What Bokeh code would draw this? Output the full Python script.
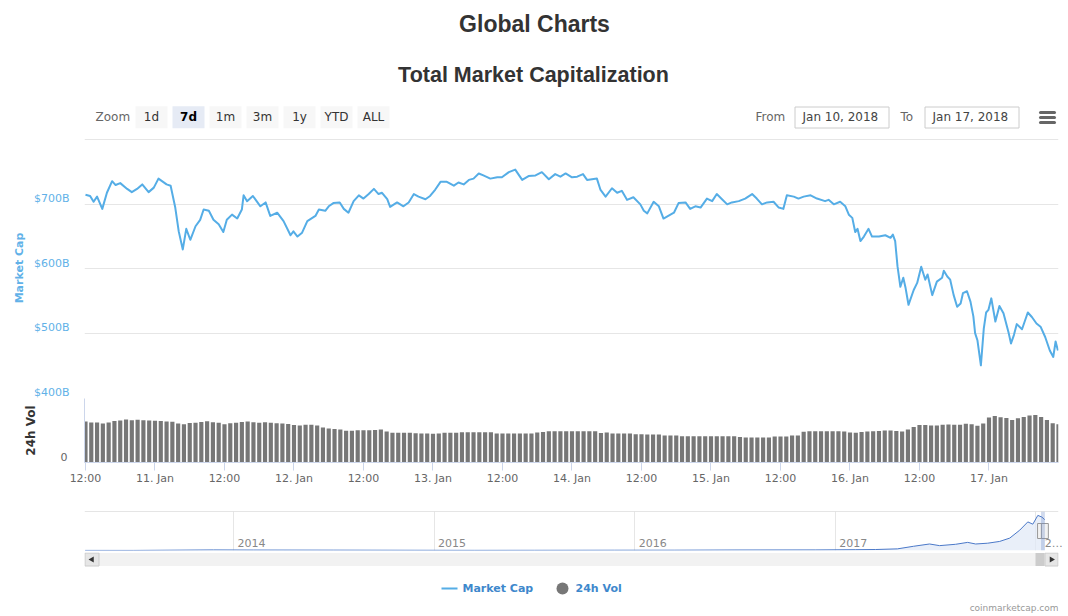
import math
from bokeh.plotting import figure
from bokeh.layouts import column
from bokeh.models import (Range1d, LinearAxis, FixedTicker, PrintfTickFormatter,
                          Grid, Span, BoxAnnotation)
from bokeh.core.properties import value
from bokeh.embed import file_html
from bokeh.resources import INLINE

# ---------------- data ----------------
# Total market cap ($B), hours since Jan 10 2018 12:00
cap_hours = [0.0, 0.8, 1.4, 2.0, 2.9, 3.7, 4.6, 5.2, 6.0, 7.2, 8.0, 8.9, 9.8, 10.9, 11.8, 12.6,
             14.0, 14.7, 15.5, 16.1, 16.8, 17.4, 18.1, 19.0, 19.8, 20.4, 21.3, 22.1, 23.0, 23.8,
             24.4, 25.3, 26.2, 27.0, 27.3, 27.9, 28.9, 30.2, 31.1, 31.9, 33.1, 34.2, 35.4, 35.9,
             36.6, 37.4, 38.3, 39.7, 40.3, 41.4, 42.0, 42.8, 43.9, 44.6, 45.4, 46.3, 47.2, 48.0,
             48.9, 49.8, 50.6, 51.2, 52.1, 52.6, 53.8, 54.9, 55.8, 56.7, 57.5, 58.7, 59.5, 60.4,
             61.3, 62.4, 63.6, 64.4, 65.3, 66.2, 67.0, 67.9, 68.7, 69.9, 71.1, 71.9, 73.1, 74.2,
             75.4, 76.5, 77.7, 78.8, 80.0, 81.1, 82.0, 82.9, 84.0, 84.9, 85.9, 86.6, 88.3, 88.9,
             89.8, 90.9, 91.8, 92.6, 93.5, 94.6, 95.8, 96.4, 97.0, 98.1, 99.0, 99.8, 101.0, 101.6,
             102.4, 103.6, 104.4, 105.3, 106.2, 107.3, 108.2, 109.0, 109.9, 110.8, 111.6, 112.8,
             113.9, 115.1, 115.9, 116.8, 117.7, 118.8, 119.7, 120.5, 121.1, 122.3, 123.1, 124.0,
             125.2, 126.3, 127.7, 128.3, 129.2, 130.3, 131.2, 131.8, 132.4, 132.9, 133.3, 133.8,
             134.4, 135.2, 135.8, 137.0, 138.1, 139.0, 139.4, 139.8, 140.2, 140.7, 141.2, 141.6,
             142.1, 143.0, 143.6, 144.3, 145.0, 145.4, 146.2, 147.0, 147.9, 148.2, 148.8, 149.3,
             149.9, 150.5, 151.1, 151.5, 152.2, 152.8, 153.3, 153.6, 154.0, 154.6, 155.1, 155.5,
             155.9, 156.4, 157.1, 157.8, 158.5, 159.4, 159.8, 160.3, 160.8, 161.7, 162.7, 163.4,
             164.2, 164.9, 165.7, 166.5, 167.1, 167.5, 167.9]
cap_values = [715, 713, 704, 712, 693, 718, 736, 730, 733, 724, 719, 724, 731, 719, 726, 740,
              731, 729, 695, 658, 630, 662, 645, 666, 676, 692, 690, 676, 669, 657,
              676, 684, 678, 692, 714, 705, 713, 697, 703, 682, 687, 674, 652, 658,
              650, 656, 674, 682, 692, 690, 697, 702, 703, 693, 687, 705, 714, 709,
              716, 724, 716, 718, 708, 696, 703, 697, 703, 716, 712, 708, 713, 723,
              735, 735, 729, 734, 731, 738, 740, 748, 745, 740, 742, 742, 750, 754,
              738, 744, 745, 750, 739, 747, 743, 748, 742, 743, 747, 738, 740, 723,
              712, 725, 718, 721, 707, 711, 700, 690, 686, 704, 697, 678, 684, 687,
              702, 703, 693, 697, 695, 709, 705, 716, 708, 700, 703, 705,
              709, 716, 709, 700, 703, 704, 695, 693, 714, 712, 709, 712,
              714, 709, 705, 707, 700, 704, 697, 684, 679, 657, 662, 643,
              650, 662, 650, 650, 652, 648, 653, 643, 604, 572, 586, 570,
              544, 567, 578, 603, 583, 591, 559, 580, 586, 597, 588, 583,
              559, 541, 546, 562, 565, 549, 526, 500, 489, 450, 507, 532,
              536, 554, 518, 542, 531, 500, 484, 497, 514, 506, 532, 525,
              515, 510, 494, 473, 463, 487, 473]

# 24h volume ($B), one bar per hour from Jan 10 2018 12:00
vol_values = [41, 40, 40, 39, 40, 41.5, 42, 43, 42.3, 42.7, 42.3, 42, 41.7, 41.5, 41, 40.7,
              39, 38.3, 39.5, 39.7, 40.5, 41.3, 40.3, 39.7,
              38.3, 39.3, 39.7, 40.5, 41, 40.3, 39.7, 40.3, 39.7, 39.3, 39, 38.5,
              37.5, 37, 37.7, 37.7, 37, 35, 34, 33.5, 33, 31.7, 31.7, 32.3,
              32.3, 32.3, 32.5, 33, 31, 29.7, 29.7, 29.7, 29.7, 29.3, 29, 29,
              28.7, 29, 29.7, 29.7, 29.7, 30.3, 30.3, 30.3, 30.3, 30.3, 30.3, 29,
              29, 29, 29, 29, 29, 29, 30, 30.5, 31.3, 31.3, 31.3, 31.3,
              31.3, 31.3, 31.3, 31.3, 31.3, 29.5, 30, 29, 29, 29, 29, 28.3,
              28.3, 28, 28, 28, 27, 27, 27, 26.3, 26.3, 26.3, 26.3, 26.3,
              26.3, 26.3, 26.3, 26.3, 26.3, 25.5, 25, 25, 25, 25, 25, 26,
              26, 26, 27, 27, 30.7, 31.3, 31.3, 31.3, 31.3, 31.3, 31.3, 31,
              30, 29.7, 30.5, 31, 31.3, 31.5, 32, 32, 31.5, 31, 33, 35.5,
              37.5, 37.5, 37, 37, 37.7, 38, 37.7, 37.7, 38.7, 38.3, 36.7, 39,
              45, 46.5, 45.3, 44.5, 42.5, 44.3, 45.5, 47, 47.5, 45.5, 42.5, 39.3,
              38.3]
vol_hours = list(range(len(vol_values)))

x_tick_hours = [0, 12, 24, 36, 48, 60, 72, 84, 96, 108, 120, 132, 144, 156]
x_tick_labels = ["12:00", "11. Jan", "12:00", "12. Jan", "12:00", "13. Jan", "12:00",
                 "14. Jan", "12:00", "15. Jan", "12:00", "16. Jan", "12:00", "17. Jan"]
cap_label_ticks = [400, 500, 600, 700]
cap_grid_ticks = [400, 500, 600, 700, 800]

# navigator: whole history (decimal year, $B)
nav_years = [2013.26, 2013.5, 2013.9, 2014.1, 2014.5, 2014.9, 2015.2, 2015.5, 2015.9,
             2016.2, 2016.5, 2016.9, 2017.1, 2017.2, 2017.31, 2017.39, 2017.47, 2017.52,
             2017.6, 2017.66, 2017.70, 2017.76, 2017.82, 2017.87, 2017.92, 2017.96,
             2017.985, 2018.01, 2018.03, 2018.044]
nav_caps = [2, 1.5, 13, 10, 8, 5, 3.5, 4.5, 6, 7, 11, 13, 18, 22, 37, 95, 147, 110,
            140, 183, 147, 165, 205, 280, 460, 645, 594, 792, 755, 697]
nav_year_ticks = [2014, 2015, 2016, 2017, 2018]
nav_year_labels = ["2014", "2015", "2016", "2017", "2\u2026"]
sel_from = 2018.026   # Jan 10, 2018
sel_to = 2018.045     # Jan 17, 2018

zoom_buttons = ["1d", "7d", "1m", "3m", "1y", "YTD", "ALL"]
selected_button = "7d"
from_text = "Jan 10, 2018"
to_text = "Jan 17, 2018"
legend_labels = ["Market Cap", "24h Vol"]

# ---------------- styles ----------------
LINE_BLUE = "#55ade6"
LABEL_BLUE = "#61b1e8"
LEG_BLUE = "#3e88cc"
FONT = "DejaVu Sans"
W = 1068
L, R = 84, 10            # frame borders shared by all panels
XL, XR = L, W - R        # pixel extent of the frames


def bare(fig):
    fig.outline_line_color = None
    fig.background_fill_color = "white"
    fig.border_fill_color = "white"
    fig.xgrid.visible = False
    fig.ygrid.visible = False
    return fig


def panel(height, x_range, y_range, top, bottom):
    return bare(figure(width=W, height=height, x_range=x_range, y_range=y_range,
                       x_axis_location=None, y_axis_location=None, toolbar_location=None,
                       output_backend="svg", title=None, frame_align=False,
                       min_border_left=L, min_border_right=R,
                       min_border_top=top, min_border_bottom=bottom))


# ---------------- header ----------------
HH = 138
hd = panel(HH, Range1d(XL, XR), Range1d(HH, 0), 0, 0)
hd.text(x=[534], y=[23], text=["Global Charts"], text_font=value("Liberation Sans"),
        text_font_size="23px", text_font_style="bold", text_align="center",
        text_baseline="middle", text_color="#333333")
hd.text(x=[533], y=[74], text=["Total Market Capitalization"], text_font=value("Liberation Sans"),
        text_font_size="21.5px", text_font_style="bold", text_align="center",
        text_baseline="middle", text_color="#333333")
TY = 116.5
hd.text(x=[95], y=[TY], text=["Zoom"], text_font=value(FONT), text_font_size="12px",
        text_align="left", text_baseline="middle", text_color="#666666")
bx = [151 + 37 * i for i in range(len(zoom_buttons))]
fills = ["#e6ebf5" if b == selected_button else "#f7f7f7" for b in zoom_buttons]
hd.rect(x=bx, y=116.7, width=32, height=22, fill_color=fills, line_color=None)
norm = [(x, b) for x, b in zip(bx, zoom_buttons) if b != selected_button]
sel = [(x, b) for x, b in zip(bx, zoom_buttons) if b == selected_button]
hd.text(x=[x for x, _ in norm], y=TY, text=[b for _, b in norm], text_font=value(FONT),
        text_font_size="12px", text_align="center", text_baseline="middle",
        text_color="#333333")
hd.text(x=[x for x, _ in sel], y=TY, text=[b for _, b in sel], text_font=value(FONT),
        text_font_size="12px", text_font_style="bold", text_align="center",
        text_baseline="middle", text_color="#000000")
hd.text(x=[755, 900], y=TY, text=["From", "To"], text_font=value(FONT), text_font_size="12px",
        text_align="left", text_baseline="middle", text_color="#666666")
hd.quad(left=[794.5, 924.5], right=[888.5, 1018.5], top=106.5, bottom=127.5,
        fill_color="white", line_color="#cccccc")
hd.text(x=[802, 932], y=TY, text=[from_text, to_text], text_font=value(FONT),
        text_font_size="12px", text_align="left", text_baseline="middle",
        text_color="#444444")
hd.segment(x0=1040, y0=[112, 117, 122], x1=1054, y1=[112, 117, 122], line_width=3,
           line_color="#666666", line_cap="round")

# ---------------- market cap panel ----------------
xr = Range1d(-0.17, 168.0)
CAP_TOP = 802.3
mc = panel(260, xr, Range1d(400, CAP_TOP), 0, 1)
mc.add_layout(Grid(dimension=1, ticker=FixedTicker(ticks=cap_grid_ticks),
                   grid_line_color="#e6e6e6"))
mc.line(cap_hours, cap_values, line_color=LINE_BLUE, line_width=2, line_join="round")
shift = (CAP_TOP - 400) / 259 * 5.5
mc.extra_y_ranges = {"lbl": Range1d(400 - shift, CAP_TOP - shift)}
yax = LinearAxis(y_range_name="lbl", ticker=FixedTicker(ticks=cap_label_ticks),
                 formatter=PrintfTickFormatter(format="$%dB"), axis_label="Market Cap",
                 axis_line_color=None, major_tick_line_color=None, minor_tick_line_color=None,
                 major_tick_out=0, major_tick_in=0, minor_tick_out=0, minor_tick_in=0,
                 major_label_standoff=15, axis_label_standoff=5,
                 major_label_text_font=FONT, major_label_text_font_size="11px",
                 major_label_text_color=LABEL_BLUE, axis_label_text_font=FONT,
                 axis_label_text_font_size="11px", axis_label_text_font_style="bold",
                 axis_label_text_color=LABEL_BLUE)
mc.add_layout(yax, "left")

# ---------------- volume panel ----------------
vf = panel(102, xr, Range1d(0, 64), 0, 38)
vf.vbar(x=vol_hours, top=vol_values, width=0.72, fill_color="#777777", line_color=None)
xax = LinearAxis(ticker=FixedTicker(ticks=x_tick_hours),
                 major_label_overrides=dict(zip(x_tick_hours, x_tick_labels)),
                 axis_line_color="#ccd6eb", major_tick_line_color="#ccd6eb",
                 major_tick_out=8, major_tick_in=0, minor_tick_line_color=None,
                 major_label_standoff=1, major_label_text_font=FONT,
                 major_label_text_font_size="11px", major_label_text_color="#666666")
vf.add_layout(xax, "below")
vf.extra_y_ranges = {"vlbl": Range1d(-6, 58)}
vax = LinearAxis(y_range_name="vlbl", ticker=FixedTicker(ticks=[0]), axis_label="24h Vol",
                 axis_line_color="#ccd6eb", major_tick_line_color=None,
                 minor_tick_line_color=None, major_tick_out=0, major_tick_in=0,
                 major_label_standoff=17, axis_label_standoff=20,
                 major_label_text_font=FONT, major_label_text_font_size="11px",
                 major_label_text_color="#666666", axis_label_text_font=FONT,
                 axis_label_text_font_size="12px", axis_label_text_font_style="bold",
                 axis_label_text_color="#333333")
vf.add_layout(vax, "left")

# ---------------- navigator ----------------
nx0, nx1 = 2013.257, 2018.113
nav = panel(52, Range1d(nx0, nx1), Range1d(0, 880), 11, 1)
nav.add_layout(Grid(dimension=0, ticker=FixedTicker(ticks=nav_year_ticks),
                    grid_line_color="#e6e6e6"))
nav.varea(x=nav_years, y1=0, y2=nav_caps, fill_color="#dfe8f6", fill_alpha=0.7)
nav.line(nav_years, nav_caps, line_color="#4a78c8", line_width=1)
nav.add_layout(Span(location=880, dimension="width", line_color="#cccccc", line_width=1))
nav.add_layout(BoxAnnotation(left=sel_from, right=sel_to, fill_color="#6685c2",
                             fill_alpha=0.3, line_color=None))
nav.rect(x=[sel_from, sel_to], y=440, width=7, height=15, width_units="screen",
         height_units="screen", fill_color="#f2f2f2", line_color="#999999")
dshift = 18 / 200.6
nav.extra_x_ranges = {"nlbl": Range1d(nx0 - dshift, nx1 - dshift)}
nax = LinearAxis(x_range_name="nlbl", ticker=FixedTicker(ticks=nav_year_ticks),
                 major_label_overrides=dict(zip(nav_year_ticks, nav_year_labels)),
                 axis_line_color=None, major_tick_line_color=None, minor_tick_line_color=None,
                 major_tick_out=0, major_tick_in=0, minor_tick_out=0, minor_tick_in=0,
                 major_label_standoff=-14,
                 major_label_text_font=FONT, major_label_text_font_size="11px",
                 major_label_text_color="#888888")
nav.add_layout(nax, "below")

# ---------------- footer: scrollbar, legend, credits ----------------
FH = 64
ft = panel(FH, Range1d(XL, XR), Range1d(FH, 0), 0, 0)
ft.quad(left=84, right=1058, top=0.5, bottom=13.5, fill_color="#f2f2f2", line_color=None)
ft.quad(left=1035, right=1044, top=0.5, bottom=13.5, fill_color="#cccccc", line_color=None)
ft.quad(left=[84.5, 1044.5], right=[98.5, 1057.5], top=0.5, bottom=13.5,
        fill_color="#e6e6e6", line_color="#cccccc")
ft.scatter(x=[91.5], y=[7], marker="triangle", size=6, angle=math.pi / 2,
           fill_color="#333333", line_color=None)
ft.scatter(x=[1051], y=[7], marker="triangle", size=6, angle=-math.pi / 2,
           fill_color="#333333", line_color=None)
ft.segment(x0=441, y0=36, x1=457, y1=36, line_color=LINE_BLUE, line_width=2)
ft.scatter(x=[562], y=[36], marker="circle", size=12, fill_color="#777777", line_color=None)
ft.text(x=[462, 575], y=36, text=legend_labels, text_font=value(FONT),
        text_font_size="11px", text_font_style="bold", text_align="left",
        text_baseline="middle", text_color=LEG_BLUE)
ft.text(x=[1058], y=[55], text=["coinmarketcap.com"], text_font=value(FONT),
        text_font_size="9px", text_align="right", text_baseline="middle",
        text_color="#999999")

layout = column(hd, mc, vf, nav, ft, spacing=0)
open("out.html", "w").write(file_html(layout, INLINE))
